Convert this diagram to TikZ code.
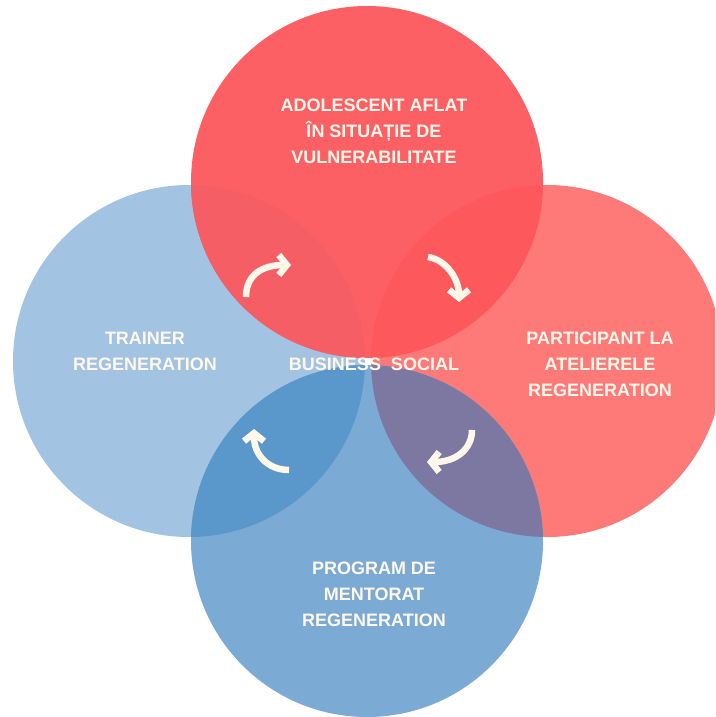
\documentclass[tikz,border=0pt]{standalone}
\usepackage{fontspec}
\setmainfont{Liberation Sans}
\usetikzlibrary{arrows.meta}
\definecolor{tred}{HTML}{FD6064}
\definecolor{lred}{HTML}{FE7A79}
\definecolor{trred}{HTML}{FD585C}
\definecolor{tlred}{HTML}{F45E64}
\definecolor{lblue}{HTML}{A2C4E2}
\definecolor{mblue}{HTML}{7BABD5}
\definecolor{lbblue}{HTML}{5A97CB}
\definecolor{rbpurple}{HTML}{7C78A1}
\definecolor{cream}{HTML}{FFF8EA}
\begin{document}
\begin{tikzpicture}[x=1pt,y=-1pt,
  lbl/.style={text=cream, font=\bfseries\fontsize{18}{26}\selectfont, align=center, inner sep=0pt},
  cyc/.style={draw=cream, line width=6.5pt, -{Straight Barb[length=8pt,width=20pt]}}]
\useasboundingbox (0,0) rectangle (715,717);
\clip (0,0) rectangle (715,717);
\fill[white] (0,0) rectangle (715,717);
\def\R{176pt}
\coordinate (ctop) at (367,182);
\coordinate (cbot) at (367,541);
\coordinate (cleft) at (189,361);
\coordinate (cright) at (547,361);
\fill[lblue] (cleft) circle[radius=\R];
\fill[lred] (cright) circle[radius=\R];
\fill[mblue] (cbot) circle[radius=\R];
\fill[tred] (ctop) circle[radius=\R];
\begin{scope}
  \clip (ctop) circle[radius=\R];
  \fill[trred] (cright) circle[radius=\R];
  \fill[tlred] (cleft) circle[radius=\R];
\end{scope}
\begin{scope}
  \clip (cbot) circle[radius=\R];
  \fill[lbblue] (cleft) circle[radius=\R];
  \fill[rbpurple] (cright) circle[radius=\R];
\end{scope}
\node[lbl] (adol) at (374,131) {ADOLESCENT AFLAT\\ÎN SITUAȚIE DE\\VULNERABILITATE};
\node[lbl] (trainer) at (145,351) {TRAINER\\REGENERATION};
\node[lbl] (part) at (600,364) {PARTICIPANT LA\\ATELIERELE\\REGENERATION};
\node[lbl] (prog) at (374,594) {PROGRAM DE\\MENTORAT\\REGENERATION};
\node[lbl] (biz) at (374,364) {BUSINESS\ \ SOCIAL};
\coordinate (a1s) at (246,297); \coordinate (a1e) at (291,265);
\coordinate (a2s) at (428,257); \coordinate (a2e) at (459,302);
\coordinate (a3s) at (472,430); \coordinate (a3e) at (427,462);
\coordinate (a4s) at (289,470); \coordinate (a4e) at (254,429);
\draw[cyc] (a1s) .. controls (246,275) and (262,265) .. (a1e);
\draw[cyc] (a2s) .. controls (447,260) and (459,280) .. (a2e);
\draw[cyc] (a3s) .. controls (472,450) and (455,462) .. (a3e);
\draw[cyc] (a4s) .. controls (268,470) and (254,455) .. (a4e);
\end{tikzpicture}
\end{document}
